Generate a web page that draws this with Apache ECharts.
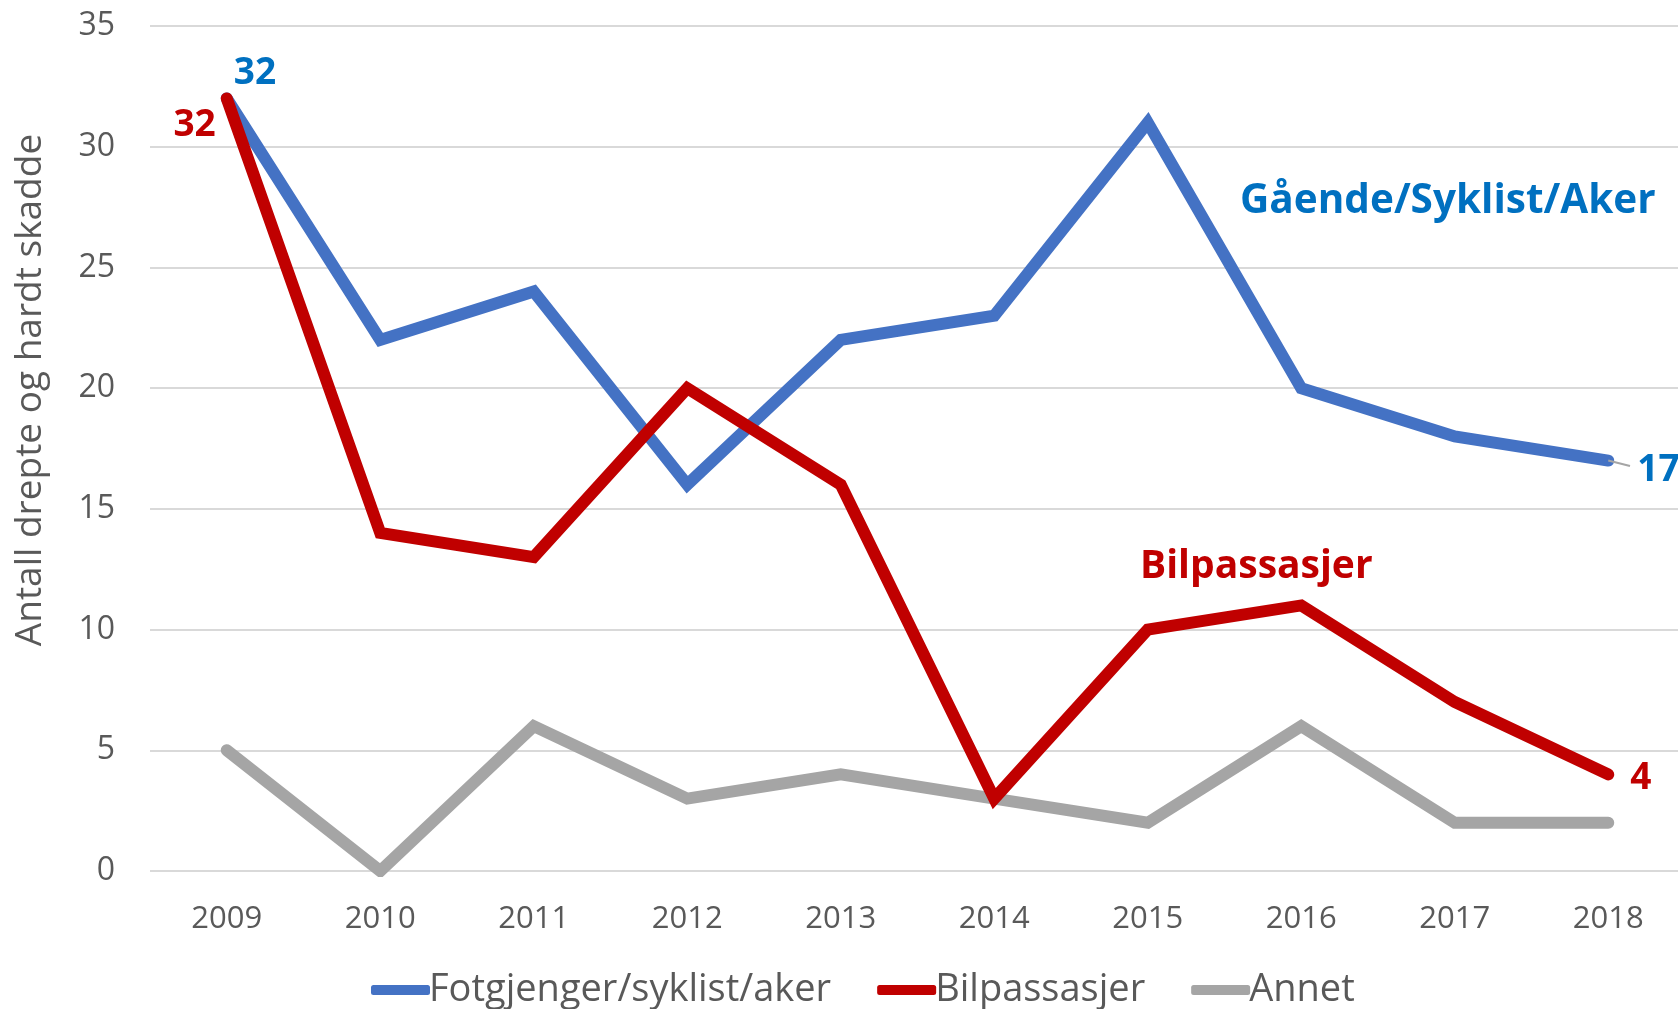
<!DOCTYPE html>
<html>
<head>
<meta charset="utf-8">
<script src="https://cdn.jsdelivr.net/npm/echarts@6/dist/echarts.min.js"></script>
<style>
  html, body { margin: 0; padding: 0; background: #fff; overflow: hidden; }
  #chart { width: 1700px; height: 1009px; }
</style>
</head>
<body>
<div id="chart"></div>
<script>
const years = ['2009', '2010', '2011', '2012', '2013', '2014', '2015', '2016', '2017', '2018']
const fotgjenger = [32, 22, 24, 16, 22, 23, 31, 20, 18, 17]
const bilpassasjer = [32, 14, 13, 20, 16, 3, 10, 11, 7, 4]
const annet = [5, 0, 6, 3, 4, 3, 2, 6, 2, 2]
const yTicks = [0, 5, 10, 15, 20, 25, 30, 35]

const font = '"Open Sans", "Noto Sans", sans-serif'
const blue = '#4472C4'
const red = '#C00000'
const grey = '#A5A5A5'
const lblBlue = '#0070C0'

// label on a single point, the others stay plain
function withLabels (arr, labels) {
  return arr.map((v, i) => {
    if (!labels[i]) return v
    return { value: v, label: Object.assign({ show: true, fontFamily: font, fontWeight: 'bold', fontSize: 37 }, labels[i]) }
  })
}

let chart = echarts.init(document.getElementById('chart'))
chart.setOption({
  backgroundColor: '#fff',
  animation: false,
  grid: { left: 150, top: 26, width: 1535, height: 845, containLabel: false },
  legend: {
    top: 966,
    left: 366,
    itemWidth: 59,
    itemHeight: 10,
    itemGap: 46,
    icon: 'roundRect',
    textStyle: { fontFamily: font, fontSize: 38, color: '#595959', padding: [0, 0, 0, -6] },
    data: ['Fotgjenger/syklist/aker', 'Bilpassasjer', 'Annet']
  },
  xAxis: {
    type: 'category',
    data: years,
    boundaryGap: true,
    axisLine: { show: false },
    axisTick: { show: false },
    axisLabel: { fontFamily: font, fontSize: 31, color: '#595959', margin: 33 }
  },
  yAxis: {
    type: 'value',
    min: yTicks[0],
    max: yTicks[yTicks.length - 1],
    interval: 5,
    axisLine: { show: false },
    axisTick: { show: false },
    axisLabel: { fontFamily: font, fontSize: 32, color: '#595959', margin: 35 },
    splitLine: { lineStyle: { color: '#D9D9D9', width: 2 } }
  },
  series: [
    {
      name: 'Fotgjenger/syklist/aker',
      type: 'line',
      symbol: 'circle',
      symbolSize: 0.1,
      showSymbol: true,
      itemStyle: { color: blue },
      lineStyle: { color: blue, width: 12, cap: 'round', join: 'miter' },
      data: withLabels(fotgjenger, {
        0: { position: 'right', offset: [2, -25], color: lblBlue },
        9: { position: 'right', offset: [24, 10], color: lblBlue }
      }),
      markLine: {
        silent: true,
        symbol: 'none',
        label: { show: false },
        lineStyle: { color: '#A5A5A5', width: 2, type: 'solid' },
        data: [[{ coord: ['2018', 17] }, { x: 1630, y: 466 }]]
      },
      z: 2
    },
    {
      name: 'Bilpassasjer',
      type: 'line',
      symbol: 'circle',
      symbolSize: 0.1,
      showSymbol: true,
      itemStyle: { color: red },
      lineStyle: { color: red, width: 12, cap: 'round', join: 'miter' },
      data: withLabels(bilpassasjer, {
        0: { position: 'left', offset: [-6, 27], color: red },
        9: { position: 'right', offset: [17, 4], color: red }
      }),
      z: 3
    },
    {
      name: 'Annet',
      type: 'line',
      symbol: 'circle',
      symbolSize: 0.1,
      showSymbol: true,
      itemStyle: { color: grey },
      lineStyle: { color: grey, width: 12, cap: 'round', join: 'miter' },
      data: annet,
      z: 2
    }
  ],
  graphic: [
    {
      type: 'text',
      x: 30,
      y: 390,
      rotation: Math.PI / 2,
      style: { text: 'Antall drepte og hardt skadde', fill: '#595959', font: '37px "Open Sans", "Noto Sans", sans-serif', textAlign: 'center', textVerticalAlign: 'middle' }
    },
    {
      type: 'text',
      left: 1240,
      top: 181,
      style: { text: 'Gående/Syklist/Aker', fill: lblBlue, font: 'bold 40.5px "Open Sans", "Noto Sans", sans-serif' }
    },
    {
      type: 'text',
      left: 1140,
      top: 547,
      style: { text: 'Bilpassasjer', fill: red, font: 'bold 39px "Open Sans", "Noto Sans", sans-serif' }
    }
  ]
})
</script>
</body>
</html>
